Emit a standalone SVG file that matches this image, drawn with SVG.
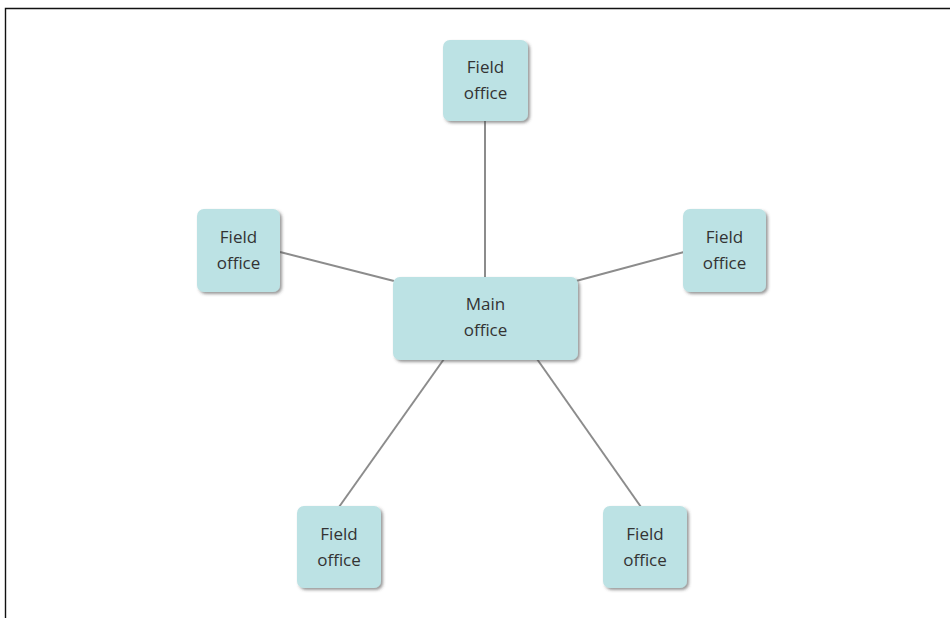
<svg xmlns="http://www.w3.org/2000/svg" width="950" height="618" viewBox="0 0 950 618">
  <defs>
    <filter id="shadow" x="-20%" y="-20%" width="140%" height="140%">
      <feDropShadow dx="2" dy="2" stdDeviation="1.5" flood-color="#444" flood-opacity="0.55"/>
    </filter>
  </defs>
  <style>
    .box { fill: #bce2e4; filter: url(#shadow); }
    .label { font-family: "Open Sans", "Noto Sans", sans-serif; font-size: 17px; fill: #333; text-anchor: middle; }
    .link { stroke: #8c8c8c; stroke-width: 2; fill: none; }
    .frame { stroke: #111; stroke-width: 1.4; fill: none; }
  </style>
  <rect width="950" height="618" fill="#fff"/>
  <!-- page frame: top and left edges -->
  <path class="frame" d="M5.5 618 V8.5 H950"/>

  <g id="connectors">
    <line class="link" x1="485" y1="121" x2="485" y2="278"/>
    <line class="link" x1="280" y1="252" x2="394" y2="281"/>
    <line class="link" x1="576" y1="281" x2="684" y2="252"/>
    <line class="link" x1="444" y1="359" x2="339" y2="507"/>
    <line class="link" x1="537" y1="359" x2="641" y2="507"/>
  </g>

  <g id="main-office">
    <rect class="box" x="393" y="277" width="185" height="83" rx="7"/>
    <text class="label" x="485.5" y="310">Main</text>
    <text class="label" x="485.5" y="336">office</text>
  </g>

  <g id="field-top">
    <rect class="box" x="443" y="40" width="85" height="81" rx="7"/>
    <text class="label" x="485.5" y="73">Field</text>
    <text class="label" x="485.5" y="99">office</text>
  </g>

  <g id="field-left">
    <rect class="box" x="197" y="209" width="83" height="83" rx="7"/>
    <text class="label" x="238.5" y="243">Field</text>
    <text class="label" x="238.5" y="269">office</text>
  </g>

  <g id="field-right">
    <rect class="box" x="683" y="209" width="83" height="83" rx="7"/>
    <text class="label" x="724.5" y="243">Field</text>
    <text class="label" x="724.5" y="269">office</text>
  </g>

  <g id="field-bottom-left">
    <rect class="box" x="297" y="506" width="84" height="82" rx="7"/>
    <text class="label" x="339" y="540">Field</text>
    <text class="label" x="339" y="566">office</text>
  </g>

  <g id="field-bottom-right">
    <rect class="box" x="603" y="506" width="84" height="82" rx="7"/>
    <text class="label" x="645" y="540">Field</text>
    <text class="label" x="645" y="566">office</text>
  </g>
</svg>
